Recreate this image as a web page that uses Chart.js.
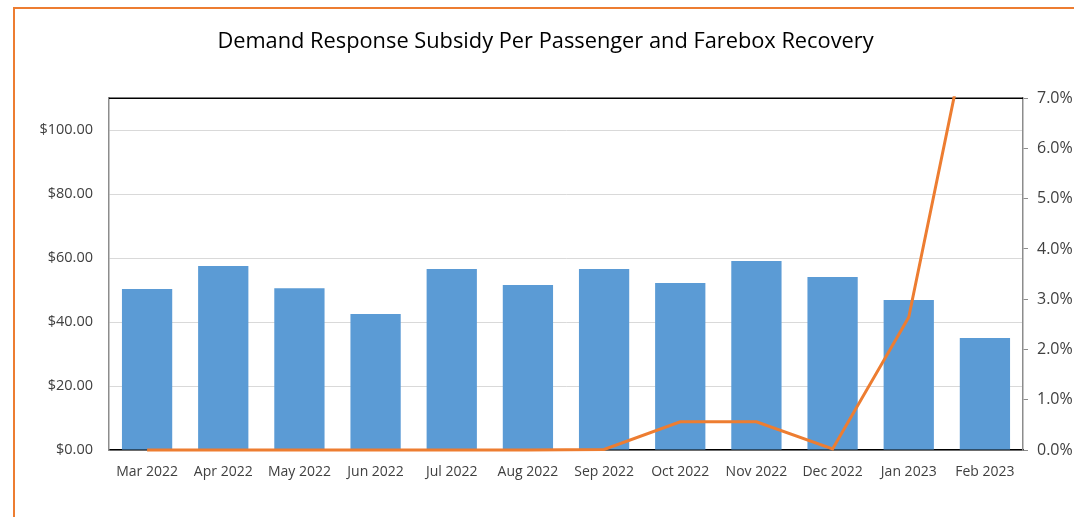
<!DOCTYPE html>
<html>
<head>
<meta charset="utf-8">
<script src="https://cdn.jsdelivr.net/npm/chart.js@4.4.1/dist/chart.umd.min.js"></script>
<style>
    html, body { margin: 0; padding: 0; background: #fff; overflow: hidden; }
    #subsidy-chart { display: block; }
</style>
</head>
<body>
<canvas id="subsidy-chart" width="1075" height="517"></canvas>
<script>
// ── Data ──────────────────────────────────────────────────────────────────
const months = ['Mar 2022', 'Apr 2022', 'May 2022', 'Jun 2022', 'Jul 2022', 'Aug 2022',
                'Sep 2022', 'Oct 2022', 'Nov 2022', 'Dec 2022', 'Jan 2023', 'Feb 2023'];
const subsidyPerPassenger = [50.3, 57.5, 50.6, 42.5, 56.6, 51.6, 56.6, 52.2, 59.1, 54.1, 46.9, 35.0];
const fareboxRecovery     = [0, 0, 0, 0, 0, 0, 0.01, 0.56, 0.56, 0.02, 2.64, 10.0]; // percent
const leftTicks  = [0, 20, 40, 60, 80, 100];
const rightTicks = [0, 1, 2, 3, 4, 5, 6, 7];

const FONT = "'Open Sans', 'Noto Sans', sans-serif";
const TEXT = '#404040';

// orange outer frame (top + left edge) and black top edge of the plot area
const frameLines = {
    id: 'frameLines',
    beforeDraw(chart) {
        const { ctx, width, height } = chart;
        ctx.save();
        ctx.fillStyle = '#ED7D31';
        ctx.fillRect(13, 7, width - 14, 2);
        ctx.fillRect(13, 7, 2, height - 7);
        ctx.restore();
    },
    beforeDatasetsDraw(chart) {
        const { ctx, chartArea } = chart;
        ctx.save();
        ctx.strokeStyle = '#000';
        ctx.lineWidth = 1.5;
        ctx.beginPath();
        ctx.moveTo(chartArea.left, chartArea.top);
        ctx.lineTo(chartArea.right, chartArea.top);
        ctx.stroke();
        ctx.restore();
    }
};

new Chart(document.getElementById('subsidy-chart'), {
    data: {
        labels: months,
        datasets: [
            {
                type: 'line',
                label: 'Farebox Recovery',
                data: fareboxRecovery,
                yAxisID: 'y2',
                borderColor: '#ED7D31',
                borderWidth: 3,
                pointRadius: 0,
                tension: 0,
                clip: 2,
                order: 0,
            },
            {
                type: 'bar',
                label: 'Subsidy Per Passenger',
                data: subsidyPerPassenger,
                yAxisID: 'y',
                backgroundColor: '#5B9BD5',
                categoryPercentage: 1,
                barPercentage: 0.66,
                order: 1,
            },
        ],
    },
    options: {
        responsive: false,
        animation: false,
        layout: { padding: { left: 16, right: 0, top: 0, bottom: 0 } },
        plugins: {
            legend: { display: false },
            tooltip: { enabled: false },
            title: {
                display: true,
                text: 'Demand Response Subsidy Per Passenger and Farebox Recovery',
                color: '#000',
                font: { family: FONT, size: 21.8, weight: 'normal', lineHeight: 1.2 },
                padding: { top: 29, bottom: 43 },
            },
        },
        scales: {
            x: {
                grid: { display: false },
                border: { color: '#000', width: 1.5 },
                ticks: { color: TEXT, font: { family: FONT, size: 14 }, padding: 6, maxRotation: 0, autoSkip: false },
                afterFit(scale) { scale.height = 67; },
            },
            y: {
                position: 'left',
                min: 0,
                max: 110,
                afterBuildTicks(scale) { scale.ticks = leftTicks.map(v => ({ value: v })); },
                grid: { color: '#D9D9D9', drawTicks: false },
                border: { color: '#8C8C8C', width: 1.5 },
                ticks: {
                    color: TEXT,
                    font: { family: FONT, size: 14.5 },
                    padding: 16,
                    callback: v => '$' + v.toFixed(2),
                },
                afterFit(scale) { scale.width = 93; },
            },
            y2: {
                position: 'right',
                min: 0,
                max: 7,
                afterBuildTicks(scale) { scale.ticks = rightTicks.map(v => ({ value: v })); },
                grid: { drawOnChartArea: false, drawTicks: true, tickLength: 5, color: '#8C8C8C' },
                border: { color: '#8C8C8C', width: 1.5 },
                ticks: {
                    color: TEXT,
                    font: { family: FONT, size: 16 },
                    padding: 9,
                    callback: v => v.toFixed(1) + '%',
                },
                afterFit(scale) { scale.width = 52; },
            },
        },
    },
    plugins: [frameLines],
});
</script>
</body>
</html>
